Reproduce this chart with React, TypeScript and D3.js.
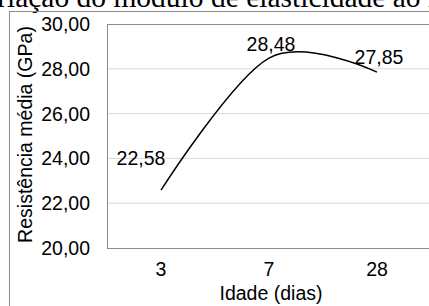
import React from "react";
import * as d3 from "d3";

// idade (dias) x resistência média (GPa)
const idades = ["3", "7", "28"];
const resistencias = [22.58, 28.48, 27.85];
const yTicks = [20, 22, 24, 26, 28, 30];
const rotulos = ["22,58", "28,48", "27,85"];

const W = 429, H = 306;
const plot = { left: 107, top: 24, right: 431, bottom: 248 };
const sans = "'Liberation Sans', Arial, sans-serif";

export default function App() {
  const x = d3.scaleBand().domain(idades).range([plot.left, plot.right]).padding(0);
  const y = d3.scaleLinear().domain([20, 30]).range([plot.bottom, plot.top]);
  const cx = (d: string) => (x(d) as number) + x.bandwidth() / 2;

  const pts: [number, number][] = idades.map((d, i) => [cx(d), y(resistencias[i])]);
  const line = d3.line().curve(d3.curveCardinal.tension(0));

  // label offsets, the first one was moved by hand in the original
  const offs = [[-20, -25], [2, -7], [2, -8]];

  return (
    <svg width={W} height={H} style={{ position: "absolute", left: 0, top: 0, background: "#fff" }}>
      <text x={-34} y={7} fontFamily="'Liberation Serif', 'Times New Roman', serif" fontSize={29.5} fill="#000">
        Variação do módulo de elasticidade ao longo do tempo
      </text>
      {/* moldura externa */}
      <rect x={9.5} y={11.5} width={W + 20} height={H + 20} fill="none" stroke="#8c8c8c" strokeWidth={1} />

      {yTicks.slice(1, -1).map((t) => (
        <line key={t} x1={plot.left} x2={plot.right} y1={y(t)} y2={y(t)} stroke="#d9d9d9" strokeWidth={1} />
      ))}
      <rect x={plot.left + 0.5} y={plot.top + 0.5} width={plot.right - plot.left} height={plot.bottom - plot.top}
        fill="none" stroke="#8c8c8c" strokeWidth={1} />

      {yTicks.map((t) => (
        <text key={t} x={90} y={y(t)} dy="0.36em" textAnchor="end" fontFamily={sans} fontSize={19.5} fill="#000">
          {d3.format(".2f")(t).replace(".", ",")}
        </text>
      ))}
      {idades.map((d) => (
        <text key={d} x={cx(d)} y={276} textAnchor="middle" fontFamily={sans} fontSize={19.5} fill="#000">{d}</text>
      ))}

      <path d={line(pts) || ""} fill="none" stroke="#000" strokeWidth={1.5} />

      {rotulos.map((r, i) => (
        <text key={r} x={pts[i][0] + offs[i][0]} y={pts[i][1] + offs[i][1]} textAnchor="middle"
          fontFamily={sans} fontSize={19.5} fill="#000">{r}</text>
      ))}

      <text x={271} y={300} textAnchor="middle" fontFamily={sans} fontSize={19.5} fill="#000">Idade (dias)</text>
      <text transform="translate(32,134.5) rotate(-90)" textAnchor="middle" fontFamily={sans} fontSize={19.5} fill="#000">
        Resistência média (GPa)
      </text>
    </svg>
  );
}
